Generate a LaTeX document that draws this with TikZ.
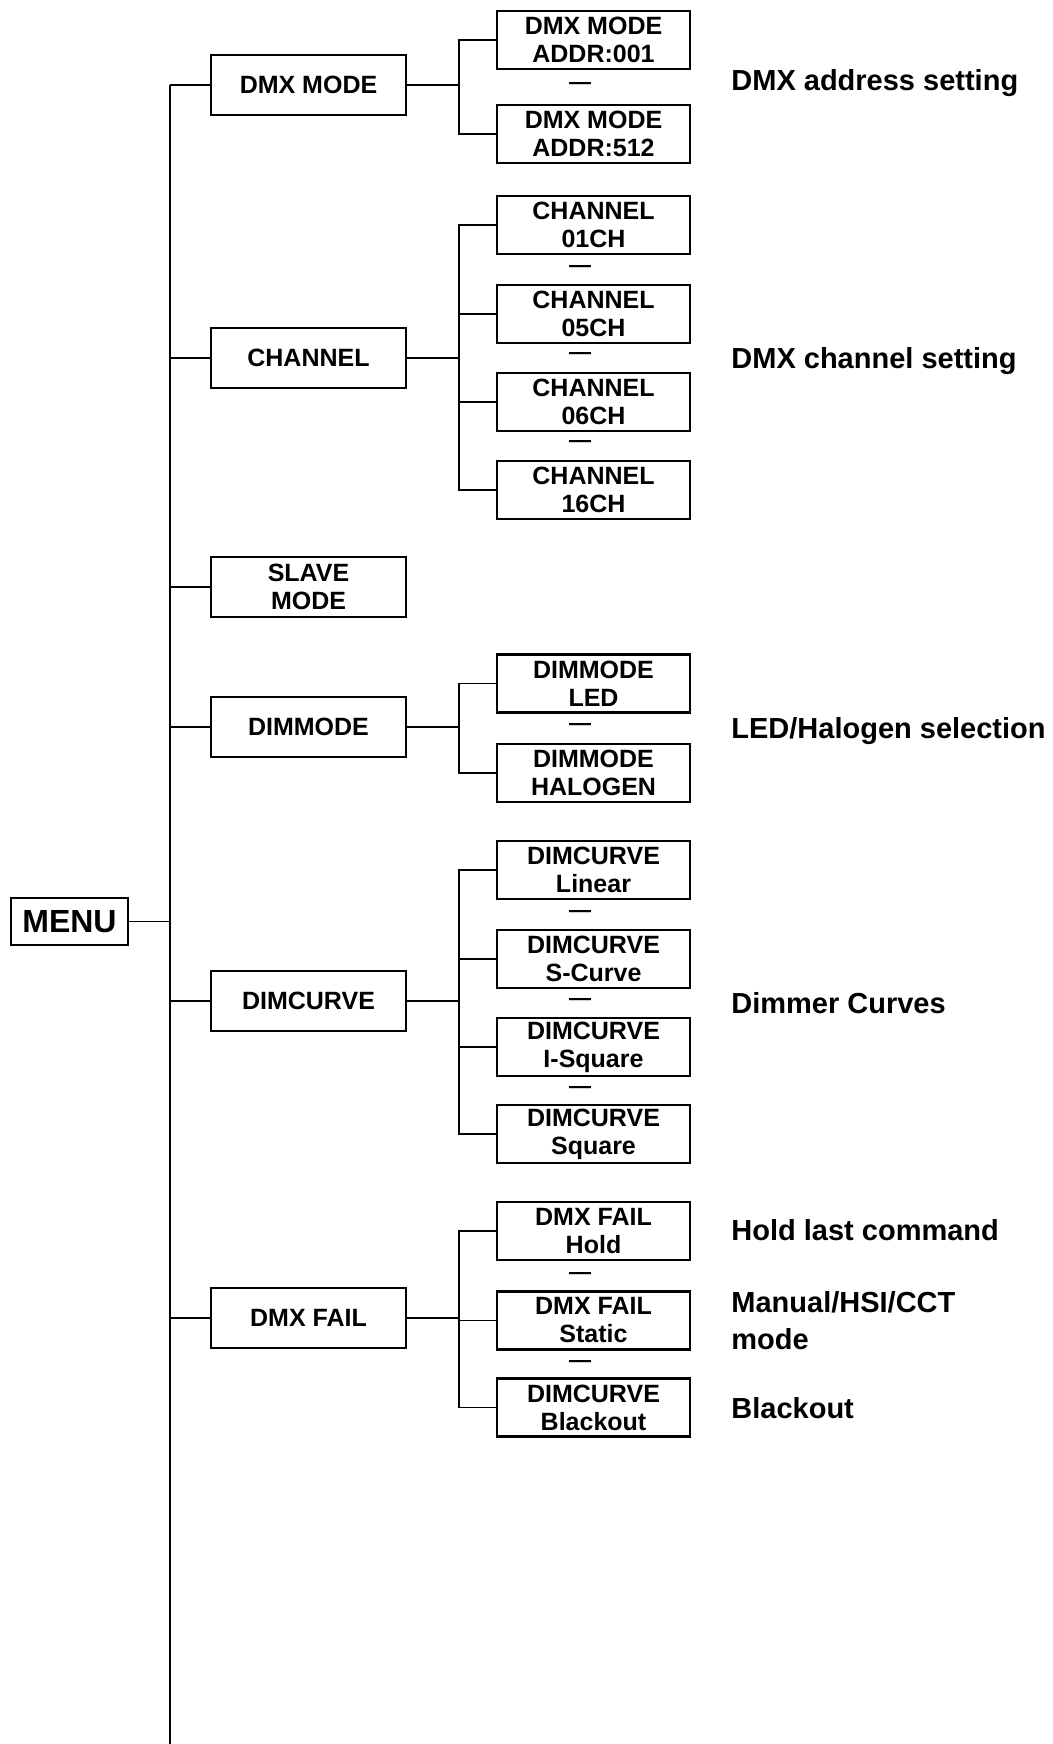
\documentclass[tikz,border=0pt]{standalone}
\usepackage{fontspec}
\setmainfont{Liberation Sans}
\begin{document}
\begin{tikzpicture}[x=0.5pt,y=-0.5pt,
	box/.style={draw,line width=1.3pt,inner sep=0pt,align=center,font=\bfseries\fontsize{12.5}{14}\selectfont},
	mainbox/.style={box,minimum width=97.5pt,minimum height=30pt},
	subbox/.style={box,minimum width=96.5pt,minimum height=29pt},
	gapmark/.style={inner sep=0pt,font=\bfseries\fontsize{11}{12}\selectfont},
	remark/.style={anchor=base west,align=left,inner sep=0pt,font=\bfseries\fontsize{14.5}{18.5}\selectfont},
	wire/.style={line width=0.9pt}]
	\useasboundingbox (0,0) rectangle (1053,1744);

	\node[box,minimum width=58.5pt,minimum height=23.5pt,font=\bfseries\fontsize{16}{18}\selectfont] (menu) at (69.5,921.5) {MENU};

	% first level
	\node[mainbox] (dmx) at (308.5,85) {DMX MODE};
	\node[mainbox] (chan) at (308.5,358) {CHANNEL};
	\node[mainbox] (slave) at (308.5,587) {SLAVE\\MODE};
	\node[mainbox] (dimmode) at (308.5,727) {DIMMODE};
	\node[mainbox] (dimcurve) at (308.5,1001) {DIMCURVE};
	\node[mainbox] (fail) at (308.5,1318) {DMX FAIL};

	% second level
	\node[subbox] (a1) at (593.5,40) {DMX MODE\\ADDR:001};
	\node[subbox] (a2) at (593.5,134) {DMX MODE\\ADDR:512};
	\node[subbox] (c1) at (593.5,225) {CHANNEL\\01CH};
	\node[subbox] (c2) at (593.5,314) {CHANNEL\\05CH};
	\node[subbox] (c3) at (593.5,402) {CHANNEL\\06CH};
	\node[subbox] (c4) at (593.5,490) {CHANNEL\\16CH};
	\node[subbox] (m1) at (593.5,683.5) {DIMMODE\\LED};
	\node[subbox] (m2) at (593.5,773) {DIMMODE\\HALOGEN};
	\node[subbox] (v1) at (593.5,870) {DIMCURVE\\Linear};
	\node[subbox] (v2) at (593.5,959) {DIMCURVE\\S-Curve};
	\node[subbox] (v3) at (593.5,1047) {DIMCURVE\\I-Square};
	\node[subbox] (v4) at (593.5,1134) {DIMCURVE\\Square};
	\node[subbox] (f1) at (593.5,1231) {DMX FAIL\\Hold};
	\node[subbox] (f2) at (593.5,1320.5) {DMX FAIL\\Static};
	\node[subbox] (f3) at (593.5,1407.5) {DIMCURVE\\Blackout};

	\foreach \y [count=\i] in {86,269,356,444,727,914,1002,1090,1276,1364} {
		\node[gapmark] (gap\i) at (580,\y) {—};
	}

	% spine
	\coordinate (top) at (170,85);
	\coordinate (bottom) at (170,1744);
	\draw[wire] (top) -- (bottom);
	\draw[wire] (menu.east) -- (menu.east -| top);
	\foreach \p in {dmx,chan,slave,dimmode,dimcurve,fail} {
		\draw[wire] (\p.west) -- (\p.west -| top);
	}

	% forks
	\foreach \p/\kids in {dmx/{a1,a2},chan/{c1,c2,c3,c4},dimmode/{m1,m2},dimcurve/{v1,v2,v3,v4},fail/{f1,f2,f3}} {
		\draw[wire] (\p.east) -- ++(52,0) coordinate (\p-fork);
		\foreach \k in \kids {
			\draw[wire] (\k.west) -- (\k.west -| \p-fork) -- (\p-fork);
		}
	}

	% notes
	\node[remark] (n-addr) at (731,91) {DMX address setting};
	\node[remark] (n-chan) at (731,368) {DMX channel setting};
	\node[remark] (n-dim) at (731,738) {LED/Halogen selection};
	\node[remark] (n-curve) at (731,1013) {Dimmer Curves};
	\node[remark] (n-hold) at (731,1240) {Hold last command};
	\node[remark] (n-static) at (731,1349) {Manual/HSI/CCT\\mode};
	\node[remark] (n-black) at (731,1418) {Blackout};
\end{tikzpicture}
\end{document}
